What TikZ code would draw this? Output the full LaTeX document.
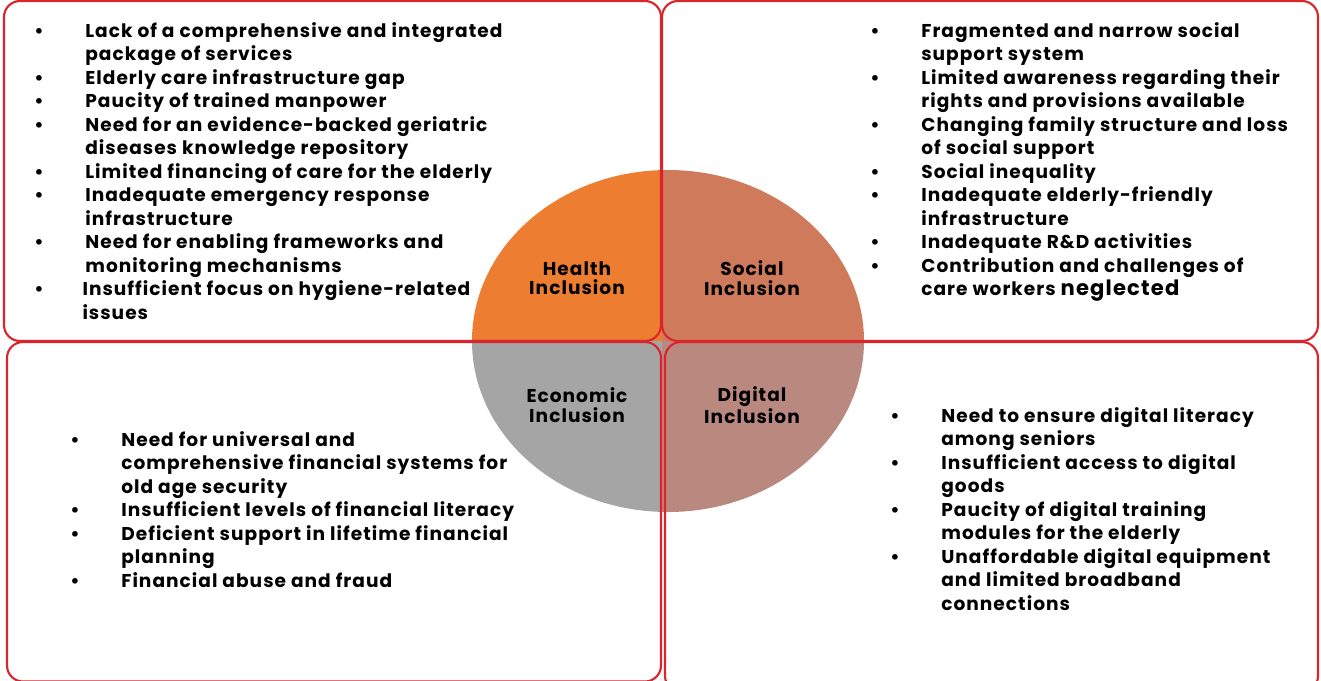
\documentclass[tikz,border=0pt]{standalone}
\usepackage{fontspec}
\setmainfont{Poppins}[LetterSpace=5.5]

\definecolor{boxred}{RGB}{218,37,45}
\definecolor{healthorange}{RGB}{237,125,49}
\definecolor{socialbrown}{RGB}{208,122,92}
\definecolor{econgrey}{RGB}{165,165,165}
\definecolor{digitalrose}{RGB}{185,137,128}

% list helpers: bullet row and continuation row
\newcommand{\listfont}{\fontsize{13.2}{16.7}\selectfont\bfseries}
\newcommand{\itm}[1]{\textbullet & #1\\}
\newcommand{\cnt}[1]{& #1\\}

\begin{document}
\begin{tikzpicture}[
    x=0.025cm, y=-0.025cm,
    quadbox/.style={draw=boxred, line width=1.5pt, rounded corners=0.4cm},
    pointlist/.style={anchor=base west, inner sep=0pt, font=\listfont},
    sector/.style={align=center, inner sep=0pt,
        font=\fontsize{13.2}{13.8}\selectfont\bfseries}
]
\useasboundingbox (0,0) rectangle (1321,680);

% Ellipse, one colour per quarter
\foreach \xa/\ya/\col in {400/100/healthorange, 930/100/socialbrown,
                          400/600/econgrey, 930/600/digitalrose}{
  \begin{scope}
    \clip (662,341) rectangle (\xa,\ya);
    \fill[\col] (668,341) ellipse [x radius=196, y radius=171];
  \end{scope}
}

% Quarter frames
\draw[quadbox] (4,1) rectangle (661,341);
\draw[quadbox] (662,1) rectangle (1318,341);
\draw[quadbox] (7,342) rectangle (661,681.5);
\draw[quadbox] (665,342) rectangle (1318,692);

% Sector labels
\node[sector] (health)  at (577,278) {Health\\Inclusion};
\node[sector] (social)  at (752,278) {Social\\Inclusion};
\node[sector] (economic) at (577,405) {Economic\\Inclusion};
\node[sector] (digital) at (752,405) {Digital\\Inclusion};

% Bullet lists
\node[pointlist] (health list) at (34,37.5) {\begin{tabular}[t]{@{}p{36.3pt}@{}l@{}}
\itm{Lack of a comprehensive and integrated}
\cnt{package of services}
\itm{Elderly care infrastructure gap}
\itm{Paucity of trained manpower}
\itm{Need for an evidence-backed geriatric}
\cnt{diseases knowledge repository}
\itm{Limited financing of care for the elderly}
\itm{Inadequate emergency response}
\cnt{infrastructure}
\itm{Need for enabling frameworks and}
\cnt{monitoring mechanisms}
\itm{\hspace*{-2pt}Insufficient focus on hygiene-related}
\cnt{\hspace*{-2pt}issues}
\end{tabular}};

\node[pointlist] (social list) at (870,37.5) {\begin{tabular}[t]{@{}p{36.3pt}@{}l@{}}
\itm{Fragmented and narrow social}
\cnt{support system}
\itm{Limited awareness regarding their}
\cnt{rights and provisions available}
\itm{Changing family structure and loss}
\cnt{of social support}
\itm{Social inequality}
\itm{Inadequate elderly-friendly}
\cnt{infrastructure}
\itm{Inadequate R\&D activities}
\itm{Contribution and challenges of}
\cnt{care workers {\fontsize{15}{16.7}\selectfont neglected}}
\end{tabular}};

\node[pointlist] (economic list) at (70,446.5) {\begin{tabular}[t]{@{}p{36.3pt}@{}l@{}}
\itm{Need for universal and}
\cnt{comprehensive financial systems for}
\cnt{old age security}
\itm{Insufficient levels of financial literacy}
\itm{Deficient support in lifetime financial}
\cnt{planning}
\itm{Financial abuse and fraud}
\end{tabular}};

\node[pointlist] (digital list) at (890,422.5) {\begin{tabular}[t]{@{}p{36.3pt}@{}l@{}}
\itm{Need to ensure digital literacy}
\cnt{among seniors}
\itm{Insufficient access to digital}
\cnt{goods}
\itm{Paucity of digital training}
\cnt{modules for the elderly}
\itm{Unaffordable digital equipment}
\cnt{and limited broadband}
\cnt{connections}
\end{tabular}};

\end{tikzpicture}
\end{document}
